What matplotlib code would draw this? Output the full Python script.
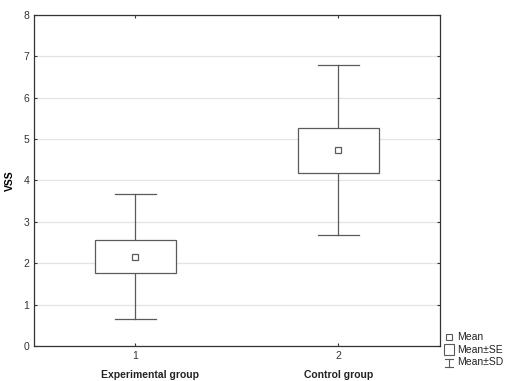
import matplotlib
matplotlib.use("Agg")
import matplotlib.pyplot as plt
from matplotlib.patches import Rectangle
from matplotlib.lines import Line2D

plt.rcParams["font.family"] = ["Liberation Sans", "DejaVu Sans"]

groups = ["Experimental group", "Control group"]
positions = [1, 2]
means = [2.15, 4.73]
se_low = [1.76, 4.17]
se_high = [2.56, 5.27]
sd_low = [0.65, 2.68]
sd_high = [3.67, 6.78]

line_col = "#5a5a5a"

fig = plt.figure(figsize=(5.15, 3.81), dpi=100)
fig.patch.set_facecolor("white")
ax = fig.add_axes([0.066, 0.092, 0.788, 0.869])

ax.set_xlim(0.5, 2.5)
ax.set_ylim(0, 8)
ax.yaxis.grid(True, color="#e3e3e3", lw=0.9)
ax.set_axisbelow(True)

box_w = 0.4
cap_w = 0.2
for x, m, lo, hi, wl, wh in zip(positions, means, se_low, se_high, sd_low, sd_high):
    ax.plot([x, x], [hi, wh], color=line_col, lw=0.9, zorder=2)
    ax.plot([x, x], [wl, lo], color=line_col, lw=0.9, zorder=2)
    ax.plot([x - cap_w / 2, x + cap_w / 2], [wh, wh], color=line_col, lw=0.9, zorder=2)
    ax.plot([x - cap_w / 2, x + cap_w / 2], [wl, wl], color=line_col, lw=0.9, zorder=2)
    ax.add_patch(Rectangle((x - box_w / 2, lo), box_w, hi - lo, facecolor="white",
                           edgecolor=line_col, lw=0.9, zorder=3))
    ax.plot([x], [m], marker="s", ms=4, mfc="white", mec=line_col, mew=0.9, zorder=4)

ax.set_xticks(positions)
ax.set_xticklabels(["1", "2"])
ax.set_yticks(range(0, 9))
ax.tick_params(labelsize=7.5, length=2, direction="in", colors="#333333", top=True, right=True)
for s in ax.spines.values():
    s.set_color("#333333")
    s.set_linewidth(0.9)

ax.set_ylabel("VSS", fontsize=7.5, fontweight="bold", labelpad=6)

# group names under the tick labels (the first one sits a bit right of its tick)
tr = ax.get_xaxis_transform()
label_x = [1.074, 2.0]
for x, g in zip(label_x, groups):
    ax.text(x, -0.088, g, transform=tr, ha="center", va="center", fontsize=7.5,
            fontweight="bold", color="#222222")

# legend drawn outside the axes, bottom right
def px(x, y):
    return (x / 515, 1 - y / 381)

fig.add_artist(Line2D([px(449, 0)[0]], [px(0, 337)[1]], marker="s", ms=4, mfc="white",
                      mec=line_col, mew=0.8, transform=fig.transFigure))
x0, y0 = px(444, 355)
x1, y1 = px(454, 344)
fig.add_artist(Rectangle((x0, y0), x1 - x0, y1 - y0, facecolor="white", edgecolor=line_col,
                         lw=0.8, transform=fig.transFigure))
xa, ya = px(445, 359)
xb, yb = px(453, 367)
xm = px(449, 0)[0]
fig.add_artist(Line2D([xa, xb], [ya, ya], color=line_col, lw=0.8, transform=fig.transFigure))
fig.add_artist(Line2D([xa, xb], [yb, yb], color=line_col, lw=0.8, transform=fig.transFigure))
fig.add_artist(Line2D([xm, xm], [ya, yb], color=line_col, lw=0.8, transform=fig.transFigure))
for label, yy in [("Mean", 337), ("Mean±SE", 350), ("Mean±SD", 362)]:
    tx, ty = px(457, yy)
    fig.text(tx, ty, label, fontsize=7.5, va="center", ha="left", color="#222222")

fig.savefig("out.png", dpi=100)
